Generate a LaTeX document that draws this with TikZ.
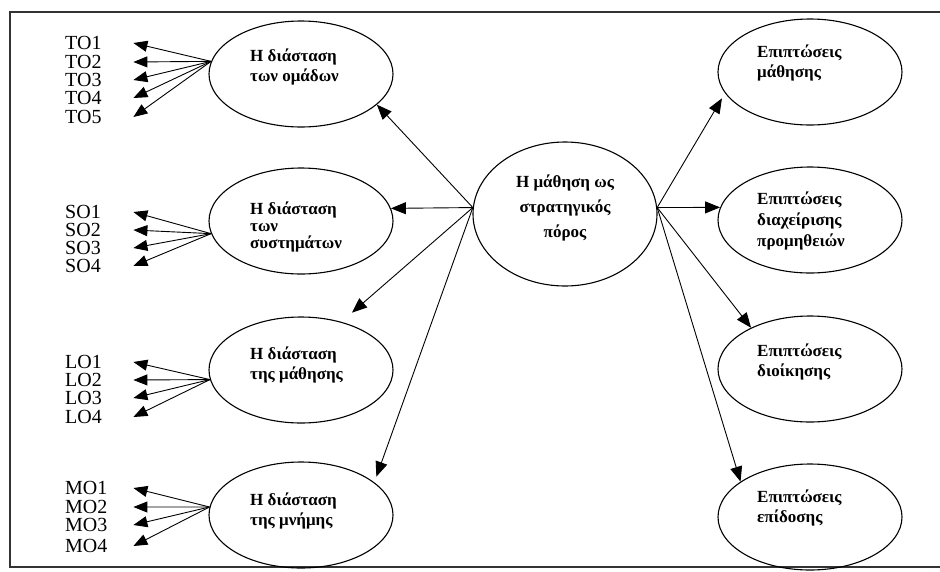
\documentclass[tikz,border=0pt]{standalone}
\usepackage{fontspec}
\setmainfont{Liberation Serif}
\usetikzlibrary{shapes.geometric,arrows.meta}
\begin{document}
\begin{tikzpicture}[x=1pt,y=-1pt,
 ell/.style={draw, ellipse, line width=1.1pt, minimum width=184pt, minimum height=106pt, inner sep=0pt},
 etext/.style={font=\bfseries\fontsize{17}{20}\selectfont, align=left, inner sep=0pt, anchor=west},
 ind/.style={font=\fontsize{20}{20}\selectfont, anchor=west, inner sep=0pt, text width=68pt, align=left},
 arr/.style={-{Triangle[length=15pt,width=12pt]}, line width=0.9pt},
 iarr/.style={-{Triangle[length=14pt,width=11pt]}, line width=0.9pt},
 frame/.style={draw=black!80, line width=1.1pt}]
\useasboundingbox (0,0) rectangle (940,571);
\fill[white] (0,0) rectangle (940,571);
% frame
\coordinate (f1) at (940,12);
\coordinate (f2) at (10,12);
\coordinate (f3) at (10,567);
\coordinate (f4) at (940,567);
\draw[frame] (f1) -- (f2) -- (f3) -- (f4);

% left ellipses
\node[ell] (TO) at (301,74) {};
\node[ell] (SO) at (301,221) {};
\node[ell] (LO) at (301,370) {};
\node[ell] (MO) at (301,515) {};
\node[etext] (tTO) at (250,67) {Η διάσταση\\των ομάδων};
\node[etext, font=\bfseries\fontsize{17}{17}\selectfont] (tSO) at (250,227) {Η διάσταση\\των\\συστημάτων};
\node[etext] (tLO) at (250,365) {Η διάσταση\\της μάθησης};
\node[etext] (tMO) at (250,511) {Η διάσταση\\της μνήμης};

% centre
\node[ell, minimum height=144pt] (C) at (565,214) {};
\node[font=\bfseries\fontsize{17}{25}\selectfont, align=center, inner sep=0pt] (tC) at (565,208) {Η μάθηση ως\\στρατηγικός\\πόρος};

% right ellipses
\node[ell] (R1) at (810,72) {};
\node[ell] (R2) at (810,220) {};
\node[ell] (R3) at (810,369) {};
\node[ell] (R4) at (810,517) {};
\node[etext] (tR1) at (757,63) {Επιπτώσεις\\μάθησης};
\node[etext, font=\bfseries\fontsize{17}{21}\selectfont] (tR2) at (757,221) {Επιπτώσεις\\διαχείρισης\\προμηθειών};
\node[etext] (tR3) at (757,362) {Επιπτώσεις\\διοίκησης};
\node[etext] (tR4) at (757,508) {Επιπτώσεις\\επίδοσης};

% indicator labels
\node[ind] (TO1) at (65,43) {TO1};
\node[ind] (TO2) at (65,62) {TO2};
\node[ind] (TO3) at (65,80) {TO3};
\node[ind] (TO4) at (65,98) {TO4};
\node[ind] (TO5) at (65,117) {TO5};
\node[ind] (SO1) at (65,212) {SO1};
\node[ind] (SO2) at (65,230) {SO2};
\node[ind] (SO3) at (65,248) {SO3};
\node[ind] (SO4) at (65,266) {SO4};
\node[ind] (LO1) at (65,362) {LO1};
\node[ind] (LO2) at (65,380) {LO2};
\node[ind] (LO3) at (65,398) {LO3};
\node[ind] (LO4) at (65,417) {LO4};
\node[ind] (MO1) at (65,488) {MO1};
\node[ind] (MO2) at (65,507) {MO2};
\node[ind] (MO3) at (65,525) {MO3};
\node[ind] (MO4) at (65,546) {MO4};

% indicator arrows
\foreach \i in {1,...,5} \draw[iarr] (TO.172) -- (TO\i.east);
\foreach \i in {1,...,4} \draw[iarr] (SO.188) -- (SO\i.east);
\foreach \i in {1,...,4} \draw[iarr] (LO.186) -- (LO\i.east);
\foreach \i in {1,...,4} \draw[iarr] (MO.175) -- (MO\i.east);

% centre arrows
\draw[arr] (C.176) -- (TO.338);
\draw[arr] (C.176) -- (SO.8);
\draw[arr, shorten >=14pt] (C.176) -- (LO.50);
\draw[arr, shorten >=6pt] (C.176) -- (MO.24);
\draw[arr, shorten >=6pt] (C.4) -- (R1.194);
\draw[arr] (C.4) -- (R2.172);
\draw[arr] (C.4) -- (R3.145);
\draw[arr] (C.4) -- (R4.153);
\end{tikzpicture}
\end{document}
